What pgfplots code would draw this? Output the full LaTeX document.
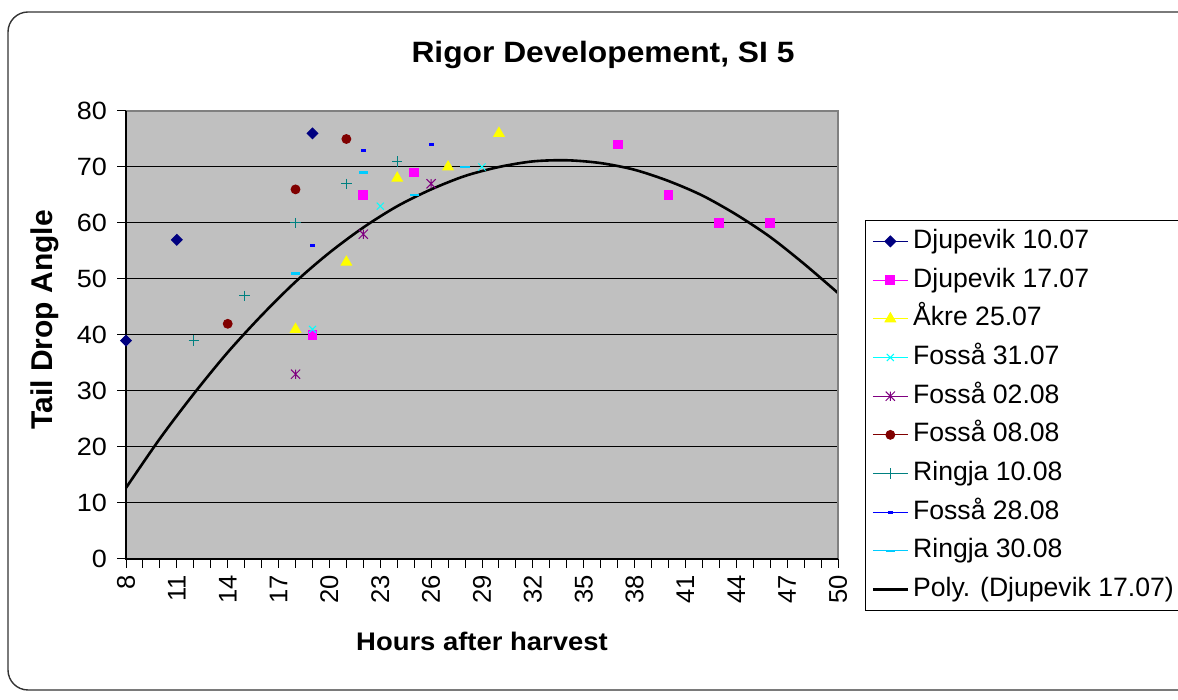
\documentclass[border=0pt]{standalone}
\usepackage{pgfplots}
\pgfplotsset{compat=1.18}
\usepackage{fontspec}
\setmainfont{Liberation Sans}
\newfontfamily\widefont{Liberation Sans}[FakeStretch=1.08]

\definecolor{plotgray}{HTML}{C0C0C0}
\definecolor{cNavy}{HTML}{000080}
\definecolor{cMagenta}{HTML}{FF00FF}
\definecolor{cYellow}{HTML}{FFFF00}
\definecolor{cCyan}{HTML}{00FFFF}
\definecolor{cPurple}{HTML}{800080}
\definecolor{cDarkRed}{HTML}{800000}
\definecolor{cTeal}{HTML}{008080}
\definecolor{cBlue}{HTML}{0000FF}
\definecolor{cSky}{HTML}{00CCFF}

% Excel-like markers
\pgfdeclareplotmark{xstar}{%
  \pgfpathmoveto{\pgfpoint{-\pgfplotmarksize}{-\pgfplotmarksize}}%
  \pgfpathlineto{\pgfpoint{\pgfplotmarksize}{\pgfplotmarksize}}%
  \pgfpathmoveto{\pgfpoint{-\pgfplotmarksize}{\pgfplotmarksize}}%
  \pgfpathlineto{\pgfpoint{\pgfplotmarksize}{-\pgfplotmarksize}}%
  \pgfpathmoveto{\pgfpoint{0pt}{-\pgfplotmarksize}}%
  \pgfpathlineto{\pgfpoint{0pt}{\pgfplotmarksize}}%
  \pgfusepathqstroke}
\pgfdeclareplotmark{sdash}{%
  \pgfpathrectangle{\pgfpoint{-1.25pt}{-0.7pt}}{\pgfpoint{2.5pt}{1.4pt}}%
  \pgfusepathqfill}
\pgfdeclareplotmark{ldash}{%
  \pgfpathrectangle{\pgfpoint{-2.3pt}{-0.7pt}}{\pgfpoint{4.6pt}{1.4pt}}%
  \pgfusepathqfill}

\begin{document}
\begin{tikzpicture}
\path[use as bounding box] (0,0) rectangle (589pt,350pt);
\begin{scope}
  \clip (0,0) rectangle (589pt,350pt);
  \draw[line width=0.7pt, color=black!80, rounded corners=10pt] (4pt,5pt) rectangle (620pt,344pt);
\end{scope}

\node[font=\widefont\bfseries\fontsize{14.7}{16}\selectfont] at (301.5pt,322.5pt) {Rigor Developement, SI 5};
\node[font=\widefont\bfseries\fontsize{12.7}{15}\selectfont] at (241pt,29.5pt) {Hours after harvest};
\node[font=\bfseries\fontsize{15}{17}\selectfont, rotate=90] at (22.5pt,190pt) {Tail Drop Angle};

\begin{axis}[
  at={(63pt,70.5pt)}, anchor=south west, scale only axis,
  width=356pt, height=224pt,
  xmin=8, xmax=50, ymin=0, ymax=80,
  xtick={8,11,...,50}, minor x tick num=2,
  ytick={0,10,...,80},
  xtick pos=bottom, ytick pos=left,
  tick align=outside,
  major tick length=4.5pt, minor tick length=4.5pt,
  every tick/.style={black, line width=0.5pt},
  ymajorgrids,
  major grid style={black, line width=0.5pt},
  axis line style={draw=none},
  axis background/.style={fill=plotgray},
  clip=false,
  /pgf/number format/assume math mode=true,
  yticklabel style={font=\widefont\fontsize{12.5}{14}\selectfont, xshift=-1.5pt},
  xticklabel style={rotate=90, anchor=east, font=\fontsize{12.8}{14}\selectfont},
  legend style={at={(1.038,0.757)}, anchor=north west, draw=black, line width=0.5pt,
    font=\fontsize{13.3}{15}\selectfont, row sep=4.35pt, inner sep=3pt,
    nodes={inner ysep=1pt, text height=10pt, text depth=3pt}},
  legend cell align=left,
  legend image code/.code={\draw[mark repeat=2,mark phase=2,#1,sharp plot] plot coordinates {(0pt,0pt) (8.75pt,0pt) (17.5pt,0pt)};},
  every axis plot/.append style={line width=0.5pt},
]
\addplot[color=cNavy, only marks, mark=square*, mark options={rotate=45}, mark size=1.9pt] coordinates {(8,39) (11,57) (19,76)};
\addlegendentry{Djupevik 10.07}
\addplot[color=cMagenta, only marks, mark=square*, mark size=2.2pt] coordinates {(19,40) (22,65) (25,69) (37,74) (40,65) (43,60) (46,60)};
\addlegendentry{Djupevik 17.07}
\addplot[color=cYellow, only marks, mark=triangle*, mark size=3pt] coordinates {(18,41) (21,53) (24,68) (27,70) (30,76)};
\addlegendentry{Åkre 25.07}
\addplot[color=cCyan, only marks, mark=x, mark size=2.5pt] coordinates {(19,41) (23,63) (29,70)};
\addlegendentry{Fosså 31.07}
\addplot[color=cPurple, only marks, mark=xstar, mark size=2.3pt] coordinates {(18,33) (22,58) (26,67)};
\addlegendentry{Fosså 02.08}
\addplot[color=cDarkRed, only marks, mark=*, mark size=2.2pt] coordinates {(14,42) (18,66) (21,75)};
\addlegendentry{Fosså 08.08}
\addplot[color=cTeal, only marks, mark=+, mark size=2.6pt] coordinates {(12,39) (15,47) (18,60) (21,67) (24,71)};
\addlegendentry{Ringja 10.08}
\addplot[color=cBlue, only marks, mark=sdash] coordinates {(19,56) (22,73) (26,74)};
\addlegendentry{Fosså 28.08}
\addplot[color=cSky, only marks, mark=ldash] coordinates {(18,51) (22,69) (25,65) (28,70)};
\addlegendentry{Ringja 30.08}
\addplot[black, line width=1.3pt, smooth, no marks] coordinates {
  (8,12.7) (10,21.5) (12,29.5) (14,36.9) (16,43.5) (18,49.5) (20,54.7)
  (22,59.2) (24,63.0) (26,66.0) (28,68.4) (30,70.0) (32,71.0) (34,71.2)
  (36,70.7) (38,69.5) (40,67.5) (42,64.9) (44,61.5) (46,57.5) (48,52.7) (50,47.5)};
\addlegendentry{Poly. (Djupevik 17.07)}
\draw[color=black!50, line width=0.6pt] (rel axis cs:0,1) -- (rel axis cs:1,1) -- (rel axis cs:1,0);
\draw[color=black, line width=0.6pt] (rel axis cs:0,1) -- (rel axis cs:0,0) -- (rel axis cs:1,0);
\end{axis}
\end{tikzpicture}
\end{document}
